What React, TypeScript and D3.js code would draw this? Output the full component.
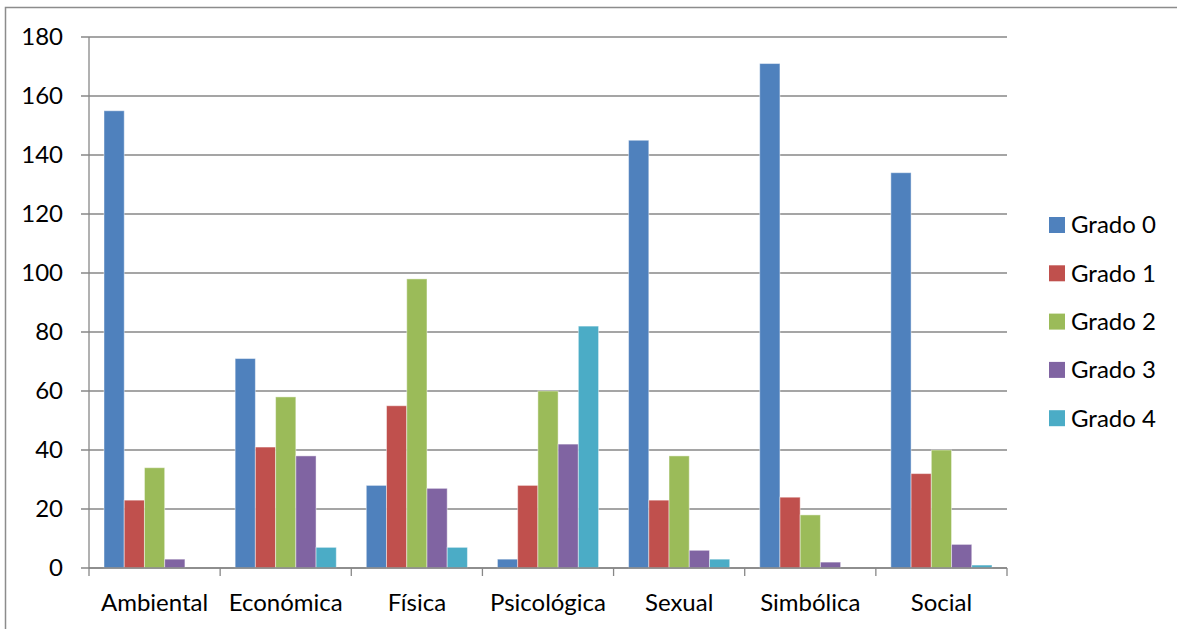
import React, { useRef, useEffect } from 'react';
import * as d3 from 'd3';

const categories = ['Ambiental', 'Económica', 'Física', 'Psicológica', 'Sexual', 'Simbólica', 'Social'];
const seriesNames = ['Grado 0', 'Grado 1', 'Grado 2', 'Grado 3', 'Grado 4'];
const grado0 = [155, 71, 28, 3, 145, 171, 134];
const grado1 = [23, 41, 55, 28, 23, 24, 32];
const grado2 = [34, 58, 98, 60, 38, 18, 40];
const grado3 = [3, 38, 27, 42, 6, 2, 8];
const grado4 = [0, 7, 7, 82, 3, 0, 1];
const yTicks = [0, 20, 40, 60, 80, 100, 120, 140, 160, 180];
const colors = ['#4F81BD', '#C0504D', '#9BBB59', '#8064A2', '#4BACC6'];

const W = 1177;
const H = 629;
const FONT = 'Lato, "Open Sans", sans-serif';
const FS = 24;

const App: React.FC = () => {
    const ref = useRef<SVGSVGElement>(null);

    useEffect(() => {
        if (!ref.current) return;
        const svg = d3.select(ref.current);
        svg.selectAll('*').remove();

        const series = [grado0, grado1, grado2, grado3, grado4];
        const left = 89, right = 1007, top = 37, bottom = 568;

        // chart frame
        svg.append('rect')
            .attr('x', 5.5).attr('y', 7.5)
            .attr('width', W + 10).attr('height', H + 10)
            .attr('fill', 'white')
            .attr('stroke', '#8c8c8c').attr('stroke-width', 1.5);

        const x = d3.scaleBand().domain(categories).range([left, right]).paddingInner(0).paddingOuter(0);
        const y = d3.scaleLinear().domain([0, 180]).range([bottom, top]);
        const inner = d3.scaleBand().domain(seriesNames)
            .range([15, x.bandwidth() - 15]).padding(0);

        // gridlines + ticks
        svg.append('g').selectAll('line').data(yTicks).enter().append('line')
            .attr('x1', left - 8).attr('x2', right)
            .attr('y1', d => y(d)).attr('y2', d => y(d))
            .attr('stroke', '#878787').attr('stroke-width', 1.3);

        svg.append('g').selectAll('text').data(yTicks).enter().append('text')
            .attr('x', 63).attr('y', d => y(d))
            .attr('dy', '0.35em')
            .attr('text-anchor', 'end')
            .attr('font-family', FONT).attr('font-size', FS)
            .attr('fill', '#000')
            .text(d => d);

        // bars
        series.forEach((vals, si) => {
            svg.append('g').selectAll('rect').data(vals).enter().append('rect')
                .attr('x', (d, i) => x(categories[i])! + inner(seriesNames[si])!)
                .attr('y', d => y(d))
                .attr('width', inner.bandwidth())
                .attr('height', d => bottom - y(d))
                .attr('fill', colors[si])
                .attr('stroke', d => d > 0 ? 'rgba(255,255,255,0.45)' : 'none')
                .attr('stroke-width', 1);
        });

        // axes lines
        svg.append('line')
            .attr('x1', left).attr('x2', left).attr('y1', top).attr('y2', bottom)
            .attr('stroke', '#878787').attr('stroke-width', 1.3);
        svg.append('line')
            .attr('x1', left).attr('x2', right).attr('y1', bottom).attr('y2', bottom)
            .attr('stroke', '#878787').attr('stroke-width', 1.3);
        const catTicks = categories.map(c => x(c)!).concat([right]);
        svg.append('g').selectAll('line').data(catTicks).enter().append('line')
            .attr('x1', d => d).attr('x2', d => d)
            .attr('y1', bottom).attr('y2', bottom + 8)
            .attr('stroke', '#878787').attr('stroke-width', 1.3);

        svg.append('g').selectAll('text').data(categories).enter().append('text')
            .attr('x', d => x(d)! + x.bandwidth() / 2)
            .attr('y', 611)
            .attr('text-anchor', 'middle')
            .attr('font-family', FONT).attr('font-size', FS)
            .attr('fill', '#000')
            .text(d => d);

        // legend
        const lg = svg.append('g');
        seriesNames.forEach((name, i) => {
            const cy = 225 + i * 48.3;
            lg.append('rect')
                .attr('x', 1049).attr('y', cy - 8)
                .attr('width', 16).attr('height', 16)
                .attr('fill', colors[i]);
            lg.append('text')
                .attr('x', 1071).attr('y', cy)
                .attr('dy', '0.35em')
                .attr('font-family', FONT).attr('font-size', FS)
                .attr('fill', '#000')
                .text(name);
        });
    }, []);

    return (
        <svg
            ref={ref}
            width={W}
            height={H}
            style={{ position: 'absolute', left: 0, top: 0, display: 'block' }}
        />
    );
};

export default App;
